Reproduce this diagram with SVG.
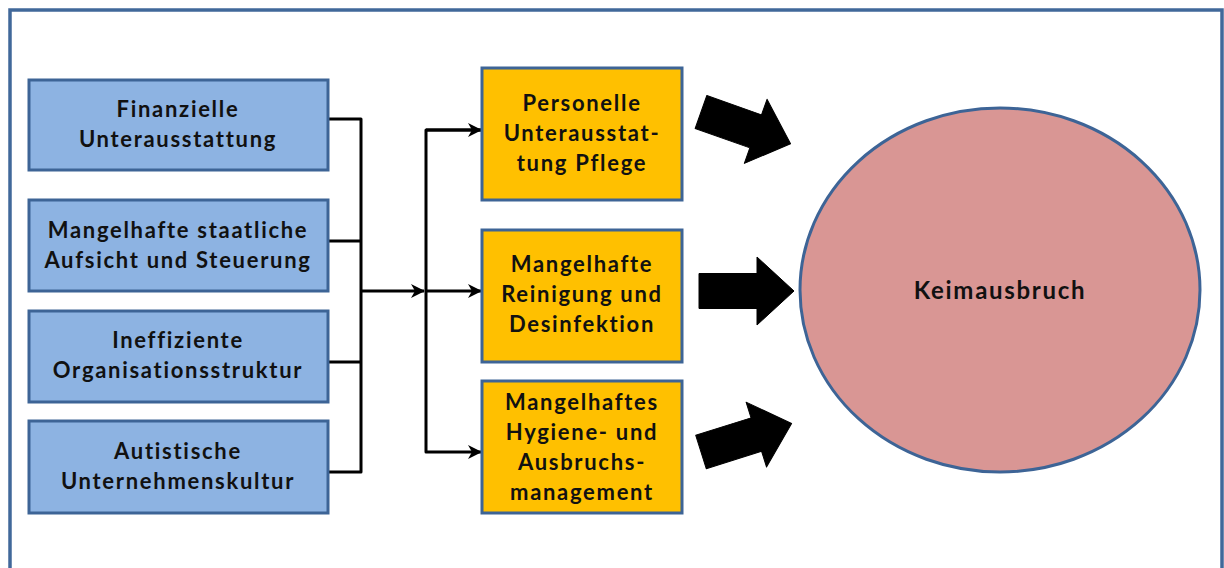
<svg xmlns="http://www.w3.org/2000/svg" width="1224" height="568" viewBox="0 0 1224 568">
<style>
.frame{fill:#ffffff;stroke:#41689a;stroke-width:3.5}
.blue{fill:#8db3e2;stroke:#3d6496;stroke-width:3}
.orange{fill:#ffc000;stroke:#3d6496;stroke-width:3}
.ell{fill:#d99694;stroke:#3d6496;stroke-width:3}
.t{font-family:Lato,"Liberation Sans",sans-serif;font-weight:bold;font-size:22px;fill:#111;text-anchor:middle;letter-spacing:1.7px}
.k{font-size:24px}
.ln{fill:none;stroke:#000;stroke-width:3;stroke-linejoin:round}
.big{fill:#000;stroke:#000;stroke-width:1;stroke-linejoin:round}
</style>
<defs>
<marker id="ah" markerWidth="18" markerHeight="18" refX="14" refY="9" orient="auto" markerUnits="userSpaceOnUse">
<path d="M1,2 L15,9 L1,16 L5,9 Z" fill="#000"/>
</marker>
<path id="blk" d="M0,-17.5 L58,-17.5 L58,-34 L95,0 L58,34 L58,17.5 L0,17.5 Z"/>
</defs>
<rect class="frame" x="10" y="10" width="1212" height="580"/>

<g id="connectors">
<polyline class="ln" points="328,119 361,119 361,472 328,472"/>
<line class="ln" x1="328" y1="241" x2="361" y2="241"/>
<line class="ln" x1="328" y1="362" x2="361" y2="362"/>
<line class="ln" x1="361" y1="291" x2="424" y2="291" marker-end="url(#ah)"/>
<polyline class="ln" points="481,130 426,130 426,452 481,452" marker-end="url(#ah)"/>
<line class="ln" x1="426" y1="130" x2="481" y2="130" marker-end="url(#ah)"/>
<line class="ln" x1="426" y1="291" x2="481" y2="291" marker-end="url(#ah)"/>
<use href="#blk" class="big" transform="translate(701,112) rotate(19.5)"/>
<use href="#blk" class="big" transform="translate(699,291)"/>
<use href="#blk" class="big" transform="translate(701,452) rotate(-17.5)"/>
</g>

<g id="n1"><rect class="blue" x="29" y="80" width="299" height="90"/>
<text class="t" x="178" y="117">Finanzielle</text><text class="t" x="178" y="147">Unterausstattung</text></g>
<g id="n2"><rect class="blue" x="29" y="200" width="299" height="91"/>
<text class="t" x="178" y="238">Mangelhafte staatliche</text><text class="t" x="178" y="268">Aufsicht und Steuerung</text></g>
<g id="n3"><rect class="blue" x="29" y="311" width="299" height="91"/>
<text class="t" x="178" y="348">Ineffiziente</text><text class="t" x="178" y="378">Organisationsstruktur</text></g>
<g id="n4"><rect class="blue" x="29" y="421" width="299" height="92"/>
<text class="t" x="178" y="459">Autistische</text><text class="t" x="178" y="489">Unternehmenskultur</text></g>

<g id="o1"><rect class="orange" x="482" y="68" width="200" height="132"/>
<text class="t" x="582" y="111">Personelle</text><text class="t" x="582" y="141">Unterausstat-</text><text class="t" x="582" y="171">tung Pflege</text></g>
<g id="o2"><rect class="orange" x="482" y="230" width="200" height="132"/>
<text class="t" x="582" y="272">Mangelhafte</text><text class="t" x="582" y="302">Reinigung und</text><text class="t" x="582" y="332">Desinfektion</text></g>
<g id="o3"><rect class="orange" x="482" y="381" width="200" height="132"/>
<text class="t" x="582" y="410">Mangelhaftes</text><text class="t" x="582" y="440">Hygiene- und</text><text class="t" x="582" y="470">Ausbruchs-</text><text class="t" x="582" y="500">management</text></g>

<g id="e1"><ellipse class="ell" cx="1000" cy="290" rx="200" ry="182"/>
<text class="t k" x="1000" y="299">Keimausbruch</text></g>
</svg>
